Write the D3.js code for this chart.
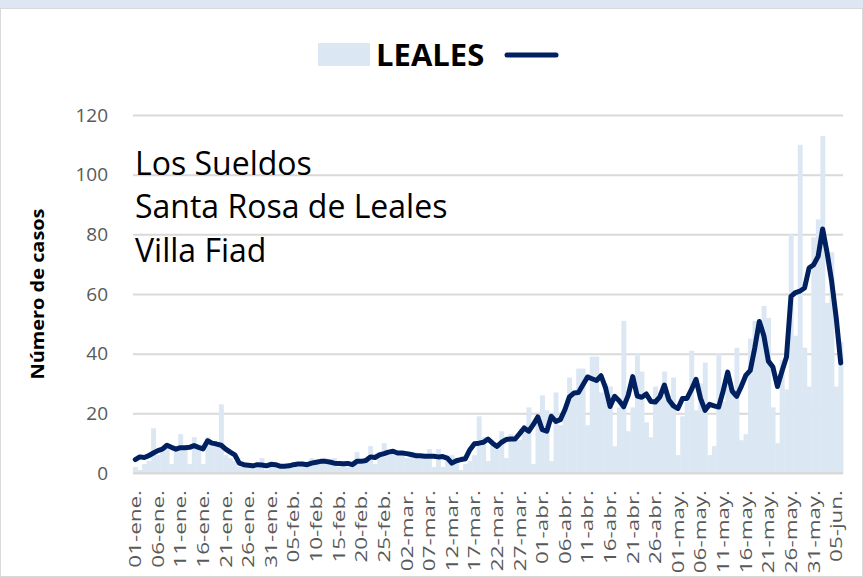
<!DOCTYPE html>
<html>
<head>
<meta charset="utf-8">
<script src="https://cdn.jsdelivr.net/npm/d3@7"></script>
<style>
  body { margin: 0; background: #fff; }
</style>
</head>
<body>
<div id="chart"></div>
<script>
// daily cases (bars) and 7-day moving average (line), 01-ene to 06-jun
const cases = [
  2, 1, 3, 4, 15, 6, 7, 9, 3, 9, 13, 9, 3, 12, 9, 3, 12, 9, 9, 23,
  6, 5, 4, 2, 2, 3, 3, 2, 5, 1, 3, 2, 3, 2, 2, 3, 2, 3, 3, 5,
  3, 4, 5, 3, 5, 2, 3, 2, 2, 7, 3, 4, 9, 3, 7, 10, 6, 8, 6, 7,
  5, 6, 7, 5, 5, 8, 2, 8, 2, 5, 6, 4, 1, 3, 4, 6, 19, 12, 4, 10,
  8, 14, 5, 13, 12, 11, 16, 22, 3, 18, 26, 21, 4, 27, 16, 22, 32, 26, 35, 35,
  16, 39, 39, 27, 30, 29, 9, 22, 51, 14, 22, 40, 34, 17, 12, 29, 27, 34, 26, 32,
  6, 19, 24, 41, 21, 30, 37, 6, 9, 40, 24, 30, 28, 42, 11, 13, 45, 51, 51, 56,
  52, 22, 10, 38, 28, 80, 46, 110, 42, 29, 79, 85, 113, 57, 74, 29, 44
];
const avg7 = [
  4.5, 5.4, 5.2, 5.8, 6.7, 7.5, 8.0, 9.3, 8.6, 8.0, 8.5, 8.5, 8.6, 9.2, 8.6, 8.1, 10.8, 10.0, 9.7, 9.3,
  8.0, 7.0, 6.1, 3.3, 2.8, 2.6, 2.4, 2.8, 2.7, 2.4, 2.9, 2.8, 2.3, 2.3, 2.4, 2.8, 3.0, 3.0, 2.8, 3.3,
  3.6, 3.9, 3.9, 3.7, 3.3, 3.2, 3.1, 3.2, 2.8, 3.9, 3.9, 4.2, 5.4, 5.2, 6.1, 6.5, 7.0, 7.3, 6.7, 6.7,
  6.5, 6.2, 5.8, 5.8, 5.6, 5.6, 5.6, 5.4, 5.5, 5.0, 3.3, 4.1, 4.5, 4.8, 7.8, 9.8, 10.0, 10.3, 11.4, 10.0,
  8.9, 10.3, 11.2, 11.4, 11.4, 13.2, 15.1, 14.0, 16.2, 18.8, 14.5, 14.0, 19.0, 17.3, 17.9, 21.2, 25.5, 26.8, 27.0, 29.6,
  32.2, 31.6, 31.0, 32.6, 28.5, 22.3, 25.7, 24.2, 22.2, 26.0, 32.3, 25.8, 25.4, 26.5, 24.0, 23.8, 25.5, 29.5, 24.5, 22.5,
  21.6, 25.0, 25.0, 28.0, 31.4, 25.0, 21.0, 23.0, 22.5, 22.1, 27.5, 33.8, 27.4, 25.7, 29.0, 32.7, 34.4, 42.0, 50.8, 46.0,
  37.5, 35.5, 29.0, 34.1, 38.9, 59.2, 60.5, 61.0, 62.0, 68.7, 69.8, 72.6, 81.8, 73.7, 64.2, 52.0, 36.9
];
const tickLabels = [
  "01-ene.", "06-ene.", "11-ene.", "16-ene.", "21-ene.", "26-ene.", "31-ene.",
  "05-feb.", "10-feb.", "15-feb.", "20-feb.", "25-feb.",
  "02-mar.", "07-mar.", "12-mar.", "17-mar.", "22-mar.", "27-mar.",
  "01-abr.", "06-abr.", "11-abr.", "16-abr.", "21-abr.", "26-abr.",
  "01-may.", "06-may.", "11-may.", "16-may.", "21-may.", "26-may.", "31-may.",
  "05-jun."
];
const yTicks = [0, 20, 40, 60, 80, 100, 120];
const places = ["Los Sueldos", "Santa Rosa de Leales", "Villa Fiad"];
const seriesName = "LEALES";
const yTitle = "Número de casos";
const meses = ["ene", "feb", "mar", "abr", "may", "jun"];

// one category per day
const days = d3.timeDay.range(new Date(2021, 0, 1), new Date(2021, 5, 7));
const categories = days.map((d) => d3.timeFormat("%d")(d) + "-" + meses[d.getMonth()] + ".");

const barColor = "#dce7f4";
const lineColor = "#002060";
const font = "'Open Sans', 'Noto Sans', sans-serif";

const W = 863, H = 577;
const margin = { top: 115, right: 20, bottom: 104, left: 133 },
  width = W - margin.left - margin.right,
  height = 473 - margin.top;

const svg = d3
  .select("#chart")
  .append("svg")
  .attr("width", W)
  .attr("height", H)
  .style("font-family", font);

// background frame
svg.append("rect").attr("x", 0).attr("y", 0).attr("width", W).attr("height", 9).attr("fill", "#dde7f3");
svg
  .append("rect")
  .attr("x", 0.5)
  .attr("y", 8.5)
  .attr("width", W - 1)
  .attr("height", H - 9)
  .attr("fill", "#fff")
  .attr("stroke", "#d9d9d9");

const g = svg.append("g").attr("transform", `translate(${margin.left},${margin.top})`);

const x = d3.scaleBand().domain(categories).range([0, width]).padding(0);
const y = d3.scaleLinear().domain([0, 120]).range([height, 0]);

// Y axis + gridlines
const yAxis = g
  .append("g")
  .call(d3.axisLeft(y).tickValues(yTicks).tickSize(-width).tickPadding(25));
yAxis.select(".domain").remove();
yAxis.selectAll("line").attr("stroke", "#d9d9d9").attr("stroke-width", 2);
yAxis
  .selectAll("text")
  .attr("fill", "#595959")
  .style("font-size", "19px")
  .style("font-family", font);

// bars
g.append("g")
  .selectAll("rect")
  .data(cases)
  .join("rect")
  .attr("x", (d, i) => x(categories[i]))
  .attr("y", (d) => y(d))
  .attr("width", x.bandwidth() + 0.4)
  .attr("height", (d) => y(0) - y(d))
  .attr("fill", barColor);

// baseline on top of the bars
g.append("line")
  .attr("x1", 0)
  .attr("x2", width)
  .attr("y1", y(0))
  .attr("y2", y(0))
  .attr("stroke", "#d9d9d9")
  .attr("stroke-width", 2);

// moving average line
const line = d3
  .line()
  .x((d, i) => x(categories[i]) + x.bandwidth() / 2)
  .y((d) => y(d));
g.append("path")
  .datum(avg7)
  .attr("d", line)
  .attr("fill", "none")
  .attr("stroke", lineColor)
  .attr("stroke-width", 5)
  .attr("stroke-linejoin", "round")
  .attr("stroke-linecap", "round");

// X axis
const xAxis = g
  .append("g")
  .attr("transform", `translate(0,${height})`)
  .call(d3.axisBottom(x).tickValues(tickLabels).tickSize(0));
xAxis.select(".domain").remove();
xAxis
  .selectAll("text")
  .attr("x", 0)
  .attr("y", 0)
  .attr("dy", "0.35em")
  .attr("transform", "translate(0,17) rotate(-90) scale(1.32,1)")
  .style("text-anchor", "end")
  .style("font-size", "17px")
  .style("font-family", font)
  .attr("fill", "#595959");

// place names
svg
  .append("g")
  .selectAll("text")
  .data(places)
  .join("text")
  .attr("x", 135)
  .attr("y", (d, i) => 175 + i * 43.3)
  .style("font-size", "32px")
  .attr("fill", "#000")
  .text((d) => d);

// Y title
svg
  .append("text")
  .attr("transform", `translate(38,${margin.top + height / 2}) rotate(-90)`)
  .attr("text-anchor", "middle")
  .attr("dy", "0.35em")
  .attr("textLength", 171)
  .attr("lengthAdjust", "spacingAndGlyphs")
  .style("font-size", "18px")
  .style("font-weight", "bold")
  .text(yTitle);

// Handmade legend
svg.append("rect").attr("x", 318).attr("y", 43).attr("width", 52).attr("height", 23).attr("fill", barColor);
svg
  .append("text")
  .attr("x", 376)
  .attr("y", 66)
  .style("font-size", "31px")
  .style("font-weight", "bold")
  .text(seriesName);
svg
  .append("line")
  .attr("x1", 507)
  .attr("x2", 556)
  .attr("y1", 55)
  .attr("y2", 55)
  .attr("stroke", lineColor)
  .attr("stroke-width", 5)
  .attr("stroke-linecap", "round");
</script>
</body>
</html>
